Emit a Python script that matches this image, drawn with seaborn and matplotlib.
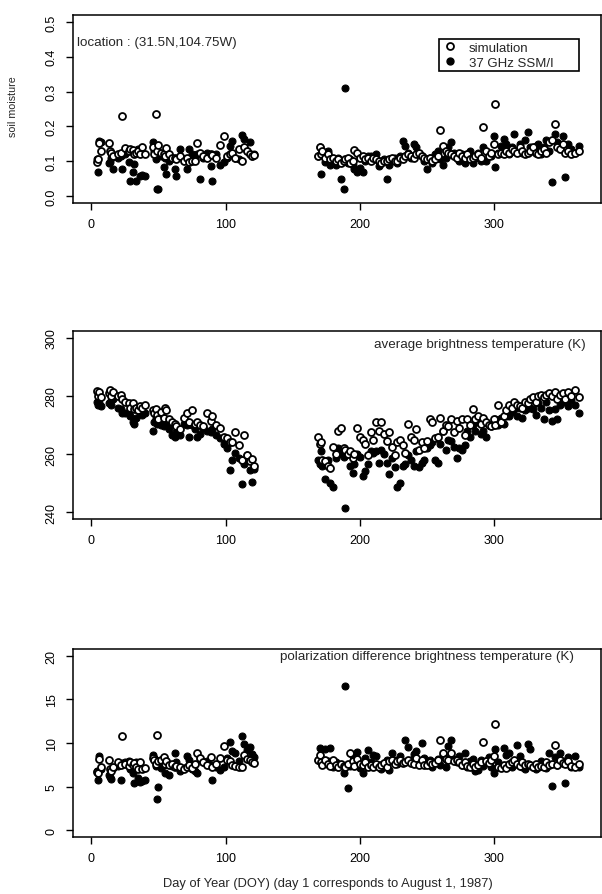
import numpy as np
import pandas as pd
import seaborn as sns
import matplotlib
matplotlib.use("Agg")
import matplotlib.pyplot as plt
from matplotlib.lines import Line2D
from matplotlib.patches import Rectangle

# ---------------- data ----------------
doy = [
    4, 5, 6, 7, 13, 14, 15, 16, 20, 22,
    23, 25, 28, 29, 31, 32, 33, 35, 36, 38,
    40, 46, 47, 48, 49, 50, 52, 54, 55, 56,
    58, 60, 62, 63, 66, 69, 71, 73, 75, 77,
    79, 81, 83, 86, 89, 90, 93, 96, 99, 101,
    103, 105, 107, 110, 112, 114, 116, 118, 120, 121,
    169, 170, 171, 172, 174, 176, 178, 180, 182, 184,
    186, 188, 189, 191, 193, 195, 196, 198, 200, 202,
    204, 206, 208, 210, 212, 214, 216, 218, 220, 222,
    224, 226, 228, 230, 232, 234, 236, 238, 240, 242,
    244, 246, 248, 250, 252, 254, 256, 258, 260, 262,
    264, 266, 268, 270, 272, 274, 276, 278, 280, 282,
    284, 286, 288, 290, 292, 294, 296, 298, 300, 301,
    303, 305, 307, 309, 311, 313, 315, 317, 319, 321,
    323, 325, 327, 329, 331, 333, 335, 337, 339, 341,
    343, 345, 347, 349, 351, 353, 355, 357, 360, 363,
]

sm_sim = [
    0.097, 0.105, 0.153, 0.128, 0.153, 0.130, 0.125, 0.115, 0.120, 0.125,
    0.231, 0.137, 0.130, 0.135, 0.133, 0.120, 0.125, 0.128, 0.120, 0.142,
    0.120, 0.142, 0.120, 0.236, 0.130, 0.148, 0.125, 0.120, 0.115, 0.137,
    0.120, 0.108, 0.110, 0.105, 0.115, 0.100, 0.110, 0.098, 0.101, 0.100,
    0.151, 0.123, 0.115, 0.110, 0.120, 0.118, 0.110, 0.146, 0.173, 0.115,
    0.120, 0.125, 0.108, 0.135, 0.100, 0.140, 0.130, 0.120, 0.115, 0.118,
    0.115, 0.140, 0.120, 0.130, 0.110, 0.120, 0.105, 0.110, 0.100, 0.105,
    0.095, 0.100, 0.105, 0.110, 0.095, 0.100, 0.133, 0.125, 0.110, 0.115,
    0.105, 0.110, 0.100, 0.110, 0.105, 0.100, 0.095, 0.100, 0.100, 0.105,
    0.110, 0.100, 0.100, 0.110, 0.105, 0.115, 0.120, 0.115, 0.110, 0.120,
    0.125, 0.115, 0.110, 0.105, 0.110, 0.100, 0.105, 0.115, 0.190, 0.145,
    0.130, 0.125, 0.120, 0.115, 0.110, 0.125, 0.115, 0.110, 0.120, 0.105,
    0.110, 0.115, 0.120, 0.110, 0.197, 0.130, 0.115, 0.125, 0.150, 0.264,
    0.120, 0.125, 0.120, 0.130, 0.125, 0.135, 0.130, 0.125, 0.140, 0.130,
    0.120, 0.125, 0.130, 0.140, 0.125, 0.120, 0.130, 0.135, 0.125, 0.155,
    0.160, 0.207, 0.140, 0.135, 0.150, 0.125, 0.130, 0.120, 0.125, 0.130,
]

sm_obs = [
    0.105, 0.068, 0.158, 0.155, 0.095, 0.097, 0.110, 0.078, 0.110, 0.115,
    0.078, 0.120, 0.097, 0.044, 0.068, 0.092, 0.044, 0.135, 0.058, 0.060,
    0.058, 0.154, 0.130, 0.105, 0.020, 0.020, 0.115, 0.082, 0.110, 0.063,
    0.100, 0.108, 0.078, 0.058, 0.135, 0.105, 0.078, 0.135, 0.120, 0.105,
    0.120, 0.049, 0.110, 0.125, 0.087, 0.044, 0.120, 0.090, 0.097, 0.110,
    0.145, 0.159, 0.110, 0.105, 0.175, 0.163, 0.130, 0.154, 0.115, 0.120,
    0.115, 0.140, 0.063, 0.120, 0.097, 0.130, 0.088, 0.101, 0.090, 0.110,
    0.049, 0.020, 0.310, 0.095, 0.105, 0.088, 0.078, 0.068, 0.080, 0.070,
    0.101, 0.115, 0.115, 0.110, 0.120, 0.085, 0.097, 0.105, 0.049, 0.090,
    0.105, 0.110, 0.095, 0.115, 0.159, 0.145, 0.125, 0.110, 0.150, 0.140,
    0.120, 0.115, 0.100, 0.078, 0.110, 0.095, 0.120, 0.130, 0.105, 0.090,
    0.110, 0.140, 0.154, 0.125, 0.110, 0.100, 0.120, 0.095, 0.105, 0.130,
    0.095, 0.110, 0.125, 0.100, 0.140, 0.100, 0.120, 0.115, 0.173, 0.082,
    0.125, 0.145, 0.165, 0.150, 0.120, 0.140, 0.178, 0.130, 0.150, 0.125,
    0.160, 0.183, 0.140, 0.130, 0.145, 0.150, 0.120, 0.140, 0.160, 0.130,
    0.039, 0.178, 0.155, 0.140, 0.173, 0.054, 0.150, 0.135, 0.125, 0.145,
]

tb_sim = [
    281.7, 280.0, 281.5, 279.5, 281.0, 282.0, 280.0, 281.5, 280.0, 280.5,
    279.0, 278.0, 277.5, 276.0, 277.5, 275.5, 276.0, 275.0, 276.5, 276.0,
    277.0, 275.0, 274.0, 275.5, 273.5, 272.0, 274.5, 272.5, 276.0, 275.0,
    272.0, 271.0, 270.5, 269.5, 268.5, 272.5, 274.0, 271.0, 275.0, 270.5,
    271.0, 270.0, 269.5, 274.0, 271.5, 273.0, 270.0, 269.0, 266.0, 265.5,
    264.0, 264.0, 267.5, 263.0, 258.0, 266.5, 259.5, 257.5, 258.3, 256.0,
    266.0, 263.5, 264.0, 258.0, 257.5, 256.0, 255.2, 262.5, 260.0, 268.0,
    269.0, 262.0, 261.5, 260.0, 261.0, 258.5, 260.0, 269.0, 266.0, 265.0,
    263.5, 259.5, 267.5, 265.0, 271.0, 268.0, 271.0, 267.0, 264.5, 267.5,
    262.5, 259.5, 264.0, 265.0, 263.0, 260.5, 270.5, 266.0, 265.0, 268.5,
    261.5, 264.0, 262.0, 264.5, 272.0, 271.0, 265.5, 266.0, 272.5, 268.0,
    270.0, 269.5, 272.0, 267.5, 271.5, 269.0, 272.0, 266.5, 272.0, 270.0,
    275.5, 272.0, 273.0, 270.5, 272.5, 271.0, 270.0, 269.5, 272.0, 270.0,
    277.0, 271.0, 273.0, 275.0, 277.0, 276.0, 278.0, 277.0, 276.5, 276.0,
    278.0, 277.5, 279.0, 279.5, 278.0, 280.0, 280.5, 279.5, 280.5, 281.0,
    280.0, 281.5, 279.0, 280.5, 281.0, 279.0, 281.5, 280.0, 282.0, 279.5,
]

tb_obs = [
    278.0, 277.0, 277.5, 276.5, 277.5, 278.0, 277.0, 279.0, 276.0, 275.5,
    274.0, 274.0, 274.5, 273.0, 271.0, 270.5, 272.5, 275.0, 274.0, 273.5,
    274.0, 268.0, 271.0, 272.5, 270.5, 271.5, 270.0, 269.5, 272.0, 270.0,
    268.5, 266.5, 266.0, 267.5, 266.5, 270.5, 270.0, 266.0, 270.0, 268.5,
    266.0, 267.0, 269.0, 268.0, 267.5, 268.5, 266.5, 265.5, 263.5, 262.0,
    254.5, 258.0, 260.5, 258.5, 249.5, 256.5, 259.5, 254.5, 250.5, 255.0,
    258.0, 256.5, 261.0, 256.0, 251.5, 258.0, 250.0, 248.5, 258.5, 262.0,
    260.0, 259.0, 241.5, 260.0, 256.0, 253.5, 256.5, 260.0, 259.0, 252.5,
    254.0, 256.5, 261.0, 260.5, 261.0, 257.0, 261.5, 260.0, 257.0, 253.0,
    258.5, 255.5, 248.5, 250.0, 256.0, 256.5, 259.5, 258.0, 256.0, 261.0,
    255.5, 257.0, 258.0, 262.0, 263.0, 264.0, 258.0, 257.0, 263.5, 268.0,
    261.5, 265.0, 264.5, 262.5, 258.5, 262.0, 261.5, 263.0, 268.0, 266.0,
    270.0, 268.0, 271.0, 267.0, 268.0, 266.0, 270.0, 269.5, 270.0, 272.0,
    270.0, 272.5, 270.5, 273.0, 273.0, 274.5, 275.5, 273.0, 276.0, 272.5,
    275.0, 276.0, 276.0, 275.5, 273.5, 277.5, 276.0, 272.0, 278.0, 275.0,
    271.5, 275.5, 272.0, 277.0, 278.0, 280.0, 276.5, 278.5, 277.0, 274.0,
]

pd_sim = [
    6.7, 6.5, 8.2, 7.3, 8.0, 7.0, 6.8, 7.2, 7.8, 7.5,
    10.8, 7.6, 7.4, 7.8, 7.5, 7.7, 7.2, 7.0, 7.8, 7.0,
    7.1, 8.3, 8.0, 7.6, 10.95, 7.9, 8.0, 8.4, 7.6, 7.9,
    7.5, 7.6, 7.2, 7.4, 7.3, 7.0, 7.3, 7.5, 7.1, 7.6,
    8.9, 8.3, 7.8, 7.5, 8.4, 7.2, 7.6, 8.3, 9.6, 8.0,
    7.9, 7.5, 7.4, 7.2, 7.3, 8.6, 8.2, 8.0, 7.8, 7.7,
    8.0, 8.6, 7.8, 7.5, 8.0, 7.6, 7.4, 8.0, 7.5, 7.3,
    7.6, 7.4, 7.2, 7.6, 8.8, 7.9, 7.4, 8.2, 7.6, 7.5,
    7.8, 7.3, 7.5, 7.3, 7.6, 7.2, 7.5, 7.7, 7.2, 7.9,
    8.1, 7.6, 7.9, 8.0, 7.7, 7.8, 8.0, 7.7, 7.6, 8.3,
    7.5, 8.0, 7.5, 7.5, 7.8, 7.6, 7.7, 8.0, 10.4, 8.8,
    8.2, 8.0, 8.8, 7.9, 8.0, 7.8, 7.5, 7.8, 7.4, 7.3,
    7.6, 7.3, 7.5, 7.8, 10.1, 7.9, 7.7, 8.0, 8.5, 12.2,
    7.3, 7.1, 7.5, 7.1, 7.6, 7.8, 8.0, 7.6, 7.4, 7.8,
    7.5, 7.6, 7.5, 7.3, 7.6, 7.2, 7.4, 7.2, 7.8, 7.5,
    7.6, 9.8, 7.5, 8.0, 7.7, 7.6, 7.9, 7.4, 7.2, 7.6,
]

pd_obs = [
    6.8, 5.7, 8.5, 7.0, 6.3, 6.1, 5.9, 7.1, 7.4, 5.7,
    7.7, 7.8, 7.9, 7.0, 6.5, 5.4, 7.8, 6.0, 5.5, 5.6,
    5.7, 8.6, 8.3, 7.4, 3.6, 4.9, 7.1, 7.5, 6.6, 7.9,
    6.3, 7.4, 8.9, 7.8, 6.8, 7.1, 8.5, 8.1, 7.0, 6.8,
    6.6, 8.2, 7.8, 7.9, 7.5, 5.8, 7.2, 6.9, 7.3, 8.3,
    10.1, 9.1, 8.9, 7.9, 10.8, 9.9, 9.2, 9.5, 8.7, 8.4,
    8.1, 9.4, 8.0, 7.6, 9.3, 7.9, 9.4, 7.3, 7.8, 7.2,
    7.5, 6.6, 16.5, 4.8, 7.4, 8.5, 7.5, 9.0, 7.1, 6.6,
    8.3, 9.2, 7.8, 8.6, 8.5, 7.5, 7.0, 7.4, 8.0, 6.9,
    8.8, 8.0, 7.6, 8.5, 7.8, 10.4, 9.5, 8.0, 8.7, 9.1,
    7.8, 10.0, 8.3, 7.6, 8.0, 7.3, 7.8, 8.2, 7.5, 8.6,
    7.3, 9.6, 10.3, 8.2, 7.8, 8.5, 7.5, 8.9, 7.2, 7.9,
    8.2, 6.8, 6.9, 8.0, 7.4, 7.9, 8.4, 7.3, 6.5, 9.3,
    7.8, 7.2, 9.4, 8.6, 8.9, 7.2, 7.6, 9.8, 8.5, 7.3,
    7.0, 9.9, 9.3, 7.3, 7.0, 7.4, 7.9, 7.4, 7.1, 8.8,
    5.1, 8.4, 7.5, 8.8, 7.9, 5.4, 8.4, 7.2, 8.5, 7.3,
]

xticks = [0, 100, 200, 300]
sm_ticks = [0.0, 0.1, 0.2, 0.3, 0.4, 0.5]
sm_ticklabels = ["0.0", "0.1", "0.2", "0.3", "0.4", "0.5"]
tb_ticks = [240, 260, 280, 300]
pd_ticks = [0, 5, 10, 15, 20]

legend_labels = ["simulation", "37 GHz SSM/I"]
ylabel_top = "soil moisture"
location_text = "location : (31.5N,104.75W)"
tb_title = "average brightness temperature (K)"
pd_title = "polarization difference brightness temperature (K)"
xlabel_text = "Day of Year (DOY) (day 1 corresponds to August 1, 1987)"

# ---------------- style ----------------
sns.set_style("ticks")
plt.rcParams["font.family"] = ["Liberation Sans", "DejaVu Sans"]
plt.rcParams["axes.linewidth"] = 1.1

W, H = 602, 895
fig = plt.figure(figsize=(W / 100, H / 100), dpi=100)

AX_L, AX_R = 73, 601
left = AX_L / W
width = (AX_R - AX_L) / W
ph = 188 / H
bottoms = [1 - 204 / H, 1 - 520 / H, 1 - 838 / H]
axes = [fig.add_axes([left, b, width, ph]) for b in bottoms]

df = pd.DataFrame({
    "doy": doy,
    "sm_sim": sm_sim, "sm_obs": sm_obs,
    "tb_sim": tb_sim, "tb_obs": tb_obs,
    "pd_sim": pd_sim, "pd_obs": pd_obs,
})

S = 25
panels = [
    ("sm_sim", "sm_obs", (-0.02, 0.52), sm_ticks, sm_ticklabels),
    ("tb_sim", "tb_obs", (237.6, 302.4), tb_ticks, [str(t) for t in tb_ticks]),
    ("pd_sim", "pd_obs", (-0.8, 20.8), pd_ticks, [str(t) for t in pd_ticks]),
]

for ax, (scol, ocol, ylim, yt, ytl) in zip(axes, panels):
    sns.scatterplot(data=df, x="doy", y=ocol, ax=ax, color="black",
                    edgecolor="black", linewidth=0.8, s=S, marker="o", zorder=3)
    sns.scatterplot(data=df, x="doy", y=scol, ax=ax, color="white",
                    edgecolor="black", linewidth=1.3, s=S, marker="o", zorder=4)
    ax.set_xlim(-13.6, 379.6)
    ax.set_ylim(*ylim)
    ax.set_xticks(xticks)
    ax.set_xticklabels([str(t) for t in xticks])
    ax.set_yticks(yt)
    ax.set_yticklabels(ytl, rotation=90, va="center")
    ax.set_xlabel("")
    ax.set_ylabel("")
    for sp in ax.spines.values():
        sp.set_visible(True)
        sp.set_color("black")
        sp.set_linewidth(1.1)
    ax.tick_params(direction="out", length=5, width=1.0, color="black",
                   labelsize=9, pad=6, labelcolor="black")
    ax.set_facecolor("white")
    ax.grid(False)

pw = AX_R - AX_L

def fx(px):
    return (px - AX_L) / pw

def fy(py, top=16):
    return 1 - (py - top) / 188

# panel 1 decorations
ax1 = axes[0]
ax1.set_ylabel(ylabel_top, fontsize=7.7)
ax1.yaxis.set_label_coords(fx(18), fy(107))
ax1.text(-10.8, 0.442, location_text, fontsize=9.6, va="center", ha="left")

box = Rectangle((fx(439), fy(72)), 140 / pw, 32 / 188, transform=ax1.transAxes,
                facecolor="white", edgecolor="black", linewidth=1.2, zorder=5)
ax1.add_patch(box)
handles = [
    Line2D([], [], marker="o", linestyle="none", markerfacecolor="white",
           markeredgecolor="black", markeredgewidth=1.3, markersize=5),
    Line2D([], [], marker="o", linestyle="none", markerfacecolor="black",
           markeredgecolor="black", markersize=5),
]
leg = ax1.legend(handles, legend_labels, loc="upper left",
                 bbox_to_anchor=(fx(444), fy(42.5)),
                 fontsize=9.5, frameon=False, borderpad=0, labelspacing=0.22,
                 handletextpad=1.0, handlelength=0.9, borderaxespad=0)
leg.set_zorder(6)

axes[1].text(368.6, 298.0, tb_title, fontsize=9.6, ha="right", va="center")
axes[2].text(359.6, 19.95, pd_title, fontsize=9.6, ha="right", va="center")

fig.text(328 / W, 1 - 884 / H, xlabel_text, fontsize=9.3, ha="center", va="center")

fig.savefig("out.png", dpi=100, facecolor="white")
